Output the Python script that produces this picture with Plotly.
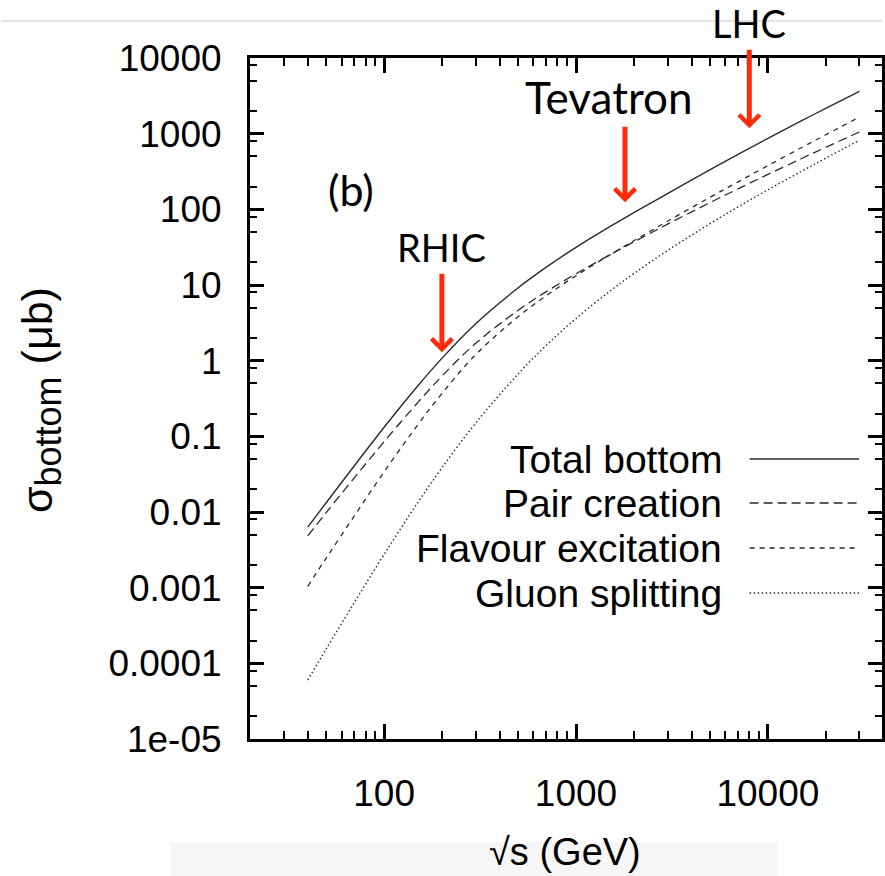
import math
import plotly.graph_objects as go

# ---------------- data ----------------
sqrt_s = [40, 50, 70, 100, 150, 200, 300, 500, 700, 1000, 1500, 2000,
          3000, 5000, 7000, 10000, 15000, 20000, 30000]
total_bottom = [0.00631, 0.01334, 0.0409, 0.1318, 0.4667, 1.072, 3.073, 9.20, 17.22,
                31.45, 59.0, 90.2, 161.8, 335, 533, 866, 1483, 2158, 3631]
pair_creation = [0.00485, 0.00989, 0.0284, 0.0851, 0.281, 0.624, 1.698, 4.645, 8.17,
                 14.09, 25.06, 37.07, 63.7, 122.9, 187.0, 289.3, 469.9, 659.2, 1052]
flavour_excitation = [0.001042, 0.002477, 0.00892, 0.0339, 0.143, 0.367, 1.202, 3.825,
                      7.23, 13.26, 25.0, 38.4, 69.7, 144.4, 231.1, 378, 656, 966, 1656]
gluon_splitting = [6.01e-5, 1.56e-4, 6.38e-4, 0.00275, 0.0134, 0.0383, 0.1496, 0.670,
                   1.592, 3.61, 8.28, 14.13, 28.6, 64.8, 107.7, 180.7, 319, 473, 821]

series_names = ["Total bottom", "Pair creation", "Flavour excitation", "Gluon splitting"]

x_tick_vals = [100, 1000, 10000]
x_tick_text = ["100", "1000", "10000"]
x_minor_vals = [30, 40, 50, 60, 70, 80, 90, 200, 300, 400, 500, 600, 700, 800, 900,
                2000, 3000, 4000, 5000, 6000, 7000, 8000, 9000, 20000, 30000]
y_tick_vals = [1e-5, 1e-4, 1e-3, 1e-2, 1e-1, 1, 10, 100, 1000, 10000]
y_tick_text = ["1e-05", "0.0001", "0.001", "0.01", "0.1", "1", "10", "100", "1000", "10000"]
y_minor_vals = [m * 10.0 ** e for e in range(-5, 4) for m in (2, 5, 8)]

colliders = ["RHIC", "Tevatron\u00a0\u00a0\u00a0", "LHC"]
collider_energy = [200, 1800, 8000]
collider_sigma = [1.29, 124, 1175]
collider_font_size = [38, 44, 38]

# ---------------- layout geometry ----------------
W, H = 885, 876
ML, MR, MT, MB = 250, 0, 58, 137
PW, PH = W - ML - MR, H - MT - MB


def px_x(p):
    return (p - ML) / PW


def px_y(p):
    return (H - MB - p) / PH


styles = [
    dict(color="#2a2a2a", width=1.4, dash="solid"),
    dict(color="#2a2a2a", width=1.3, dash="9px,5px"),
    dict(color="#2a2a2a", width=1.3, dash="5px,5px"),
    dict(color="#2a2a2a", width=1.4, dash="1.5px,2.5px"),
]
all_series = [total_bottom, pair_creation, flavour_excitation, gluon_splitting]

fig = go.Figure()
for name, ys, st in zip(series_names, all_series, styles):
    fig.add_trace(go.Scatter(x=sqrt_s, y=ys, mode="lines", name=name,
                             line=dict(color=st["color"], width=st["width"],
                                       dash=st["dash"], shape="spline", smoothing=1.0),
                             showlegend=False, hoverinfo="skip"))

font_main = "Liberation Sans, Arial, sans-serif"
font_call = "Lato, Open Sans, sans-serif"

annotations = []
shapes = []

# manual legend (text right, sample line on the right)
legend_y_px = [459, 503, 548, 593]
for name, st, yp in zip(series_names, styles, legend_y_px):
    annotations.append(dict(xref="paper", yref="paper", x=px_x(726), y=px_y(yp),
                            text=name, showarrow=False, xanchor="right", yanchor="middle",
                            font=dict(family=font_main, size=39, color="black")))
    shapes.append(dict(type="line", xref="paper", yref="paper",
                       x0=px_x(752), x1=px_x(862), y0=px_y(yp), y1=px_y(yp),
                       line=dict(color=st["color"], width=st["width"], dash=st["dash"])))

# collider labels with arrows
for name, e, s, fs in zip(colliders, collider_energy, collider_sigma, collider_font_size):
    annotations.append(dict(x=math.log10(e), y=math.log10(s), xref="x", yref="y",
                            text=name, showarrow=True, arrowhead=4, arrowsize=0.8,
                            arrowwidth=5, arrowcolor="#ff2a0a", ax=0, ay=-105,
                            standoff=0, borderpad=3,
                            font=dict(family=font_call, size=fs, color="black")))

annotations.append(dict(xref="paper", yref="paper", x=px_x(351), y=px_y(190),
                        text="(b)", showarrow=False, xanchor="center", yanchor="middle",
                        font=dict(family=font_call, size=43, color="black")))

# axis titles
annotations.append(dict(xref="paper", yref="paper", x=px_x(566), y=px_y(852),
                        text="\u221as (GeV)", showarrow=False, xanchor="center",
                        yanchor="middle",
                        font=dict(family=font_main, size=38, color="black")))
annotations.append(dict(xref="paper", yref="paper", x=px_x(40), y=px_y(400),
                        text="\u03c3<sub><span style='font-size:36px'>bottom</span></sub> (\u03bcb)",
                        textangle=-90, showarrow=False, xanchor="center", yanchor="middle",
                        font=dict(family=font_main, size=43, color="black")))

# faint slide artifacts
shapes.append(dict(type="line", xref="paper", yref="paper", x0=px_x(0), x1=px_x(885),
                   y0=px_y(21), y1=px_y(21), line=dict(color="#e4e4e4", width=2),
                   layer="below"))
shapes.append(dict(type="rect", xref="paper", yref="paper", x0=px_x(170), x1=px_x(780),
                   y0=px_y(842), y1=px_y(880), fillcolor="#f6f6f6",
                   line=dict(width=0), layer="below"))

axis_common = dict(showline=True, linecolor="black", linewidth=3, mirror="ticks",
                   ticks="inside", tickcolor="black", tickwidth=2.5,
                   showgrid=False, zeroline=False,
                   tickfont=dict(family=font_main, size=37, color="black"))

fig.update_layout(
    width=W, height=H, autosize=False,
    margin=dict(l=ML, r=MR, t=MT, b=MB, pad=0),
    paper_bgcolor="white", plot_bgcolor="white",
    xaxis=dict(type="log", range=[math.log10(20), 4.5946],
               tickmode="array", tickvals=x_tick_vals, ticktext=x_tick_text,
               ticklen=15, ticklabelstandoff=20,
               minor=dict(tickmode="array", tickvals=x_minor_vals, ticks="inside",
                          ticklen=8, tickwidth=2, tickcolor="black", showgrid=False),
               **axis_common),
    yaxis=dict(type="log", range=[-5, 4],
               tickmode="array", tickvals=y_tick_vals, ticktext=y_tick_text,
               ticklen=14, ticklabelstandoff=18,
               minor=dict(tickmode="array", tickvals=y_minor_vals, ticks="inside",
                          ticklen=7, tickwidth=2, tickcolor="black", showgrid=False),
               **axis_common),
    annotations=annotations,
    shapes=shapes,
    showlegend=False,
)

fig.write_html("out.html")
